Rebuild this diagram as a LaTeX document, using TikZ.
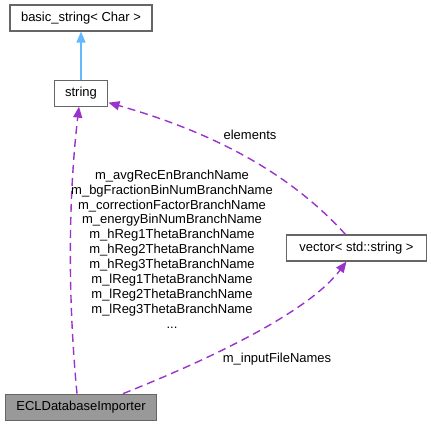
\documentclass[tikz,border=0pt]{standalone}
\usepackage{fontspec}
\setmainfont{Liberation Sans}
\usetikzlibrary{arrows.meta}
\usetikzlibrary{positioning}

\definecolor{boxgray}{HTML}{666666}
\definecolor{importergray}{HTML}{999999}
\definecolor{inheritblue}{HTML}{63B8FF}
\definecolor{usagepurple}{HTML}{9A32CD}

\begin{document}
\begin{tikzpicture}[x=1pt, y=-1pt, >={Triangle[length=11pt, width=9pt]}, node distance=48pt,
	font=\fontsize{13}{14.9}\selectfont]
	\tikzstyle{cls} = [draw=boxgray, fill=white, line width=1.1pt, inner xsep=11pt, inner ysep=0pt, minimum height=26pt];
	\tikzstyle{lbl} = [inner sep=0pt, align=center];
	\tikzstyle{inherit} = [->, draw=inheritblue, line width=1.4pt];
	\tikzstyle{usage} = [->, draw=usagepurple, line width=1.4pt, dash pattern=on 8pt off 5pt];

	\useasboundingbox (0,0) rectangle (431,423);

	\node [cls]                     (basic)    at (81,18)            {basic\_string< Char >};
	\node [cls]                     (string)   [below=48pt of basic]  {string};
	\node [cls, fill=importergray]  (importer) [below=287pt of string] {ECLDatabaseImporter};
	\node [cls, inner xsep=12.5pt]  (vec)      at (356.5,248)        {vector< std::string >};

	\draw [inherit] (string) -- (basic);

	\draw [usage] ([xshift=-4pt]importer.north) .. controls (68,300) and (68,200) .. ([xshift=-2pt]string.south);
	\draw [usage] ([xshift=-11pt]vec.north) .. controls (305,190) and (240,140) .. ([yshift=4pt]string.south east);
	\draw [usage] ([xshift=42pt]importer.north) .. controls (220,355) and (310,310) .. ([xshift=-10pt]vec.south);

	\node [lbl] (elemlabel)   at (250,135) {elements};
	\node [lbl] (inputlabel)  at (277,359) {m\_inputFileNames};
	\node [lbl] (memberlabel) at (172,249) {m\_avgRecEnBranchName\\m\_bgFractionBinNumBranchName\\m\_correctionFactorBranchName\\m\_energyBinNumBranchName\\m\_hReg1ThetaBranchName\\m\_hReg2ThetaBranchName\\m\_hReg3ThetaBranchName\\m\_lReg1ThetaBranchName\\m\_lReg2ThetaBranchName\\m\_lReg3ThetaBranchName\\...};
\end{tikzpicture}
\end{document}
